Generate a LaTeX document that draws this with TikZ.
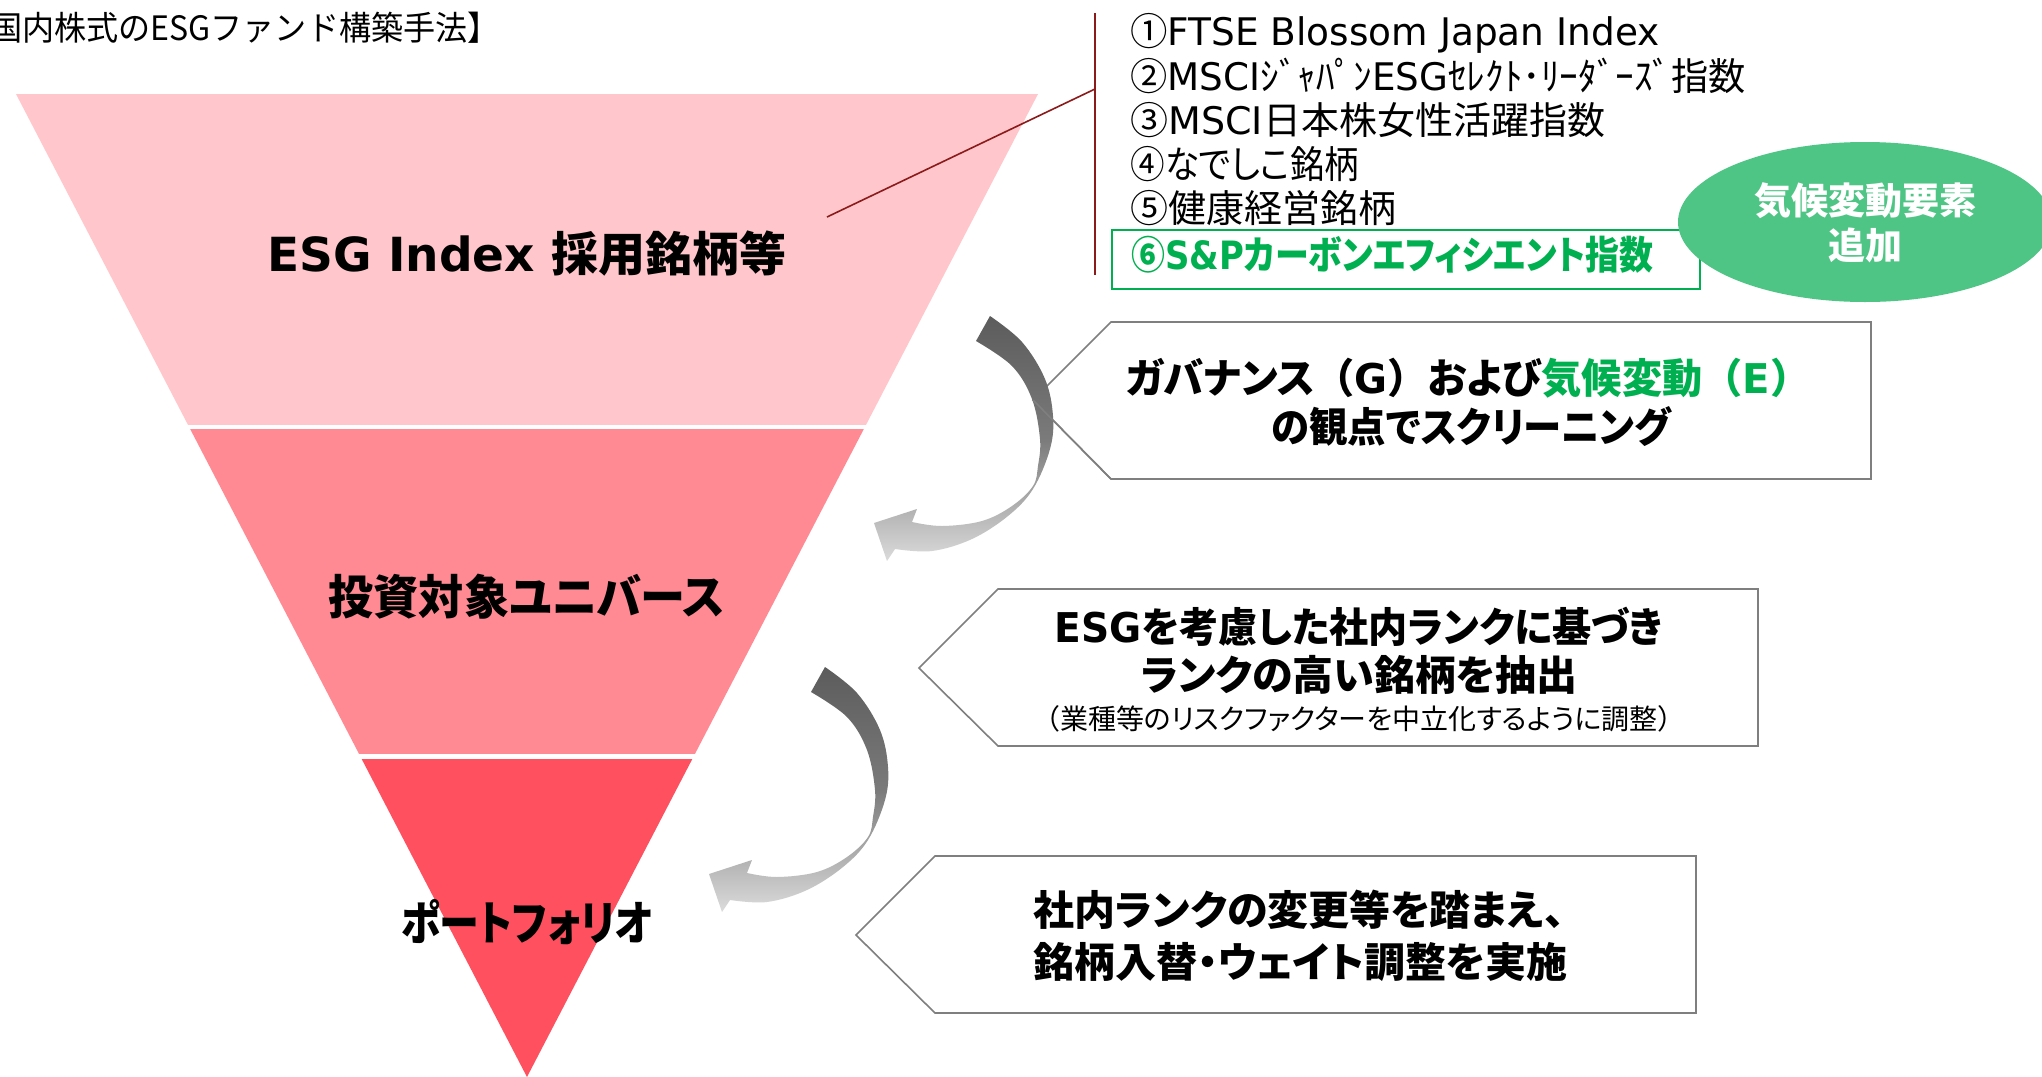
\documentclass[tikz,border=0pt]{standalone}
\usepackage{fontspec}
\setmainfont{DejaVu Sans}
\newfontfamily\jpp[RawFeature=+palt]{Noto Sans CJK JP}
\newfontfamily\jpm{Noto Sans CJK JP}
\newcommand{\jt}[1]{{\jpp #1}}
\newcommand{\jw}[1]{{\jpm #1}}
\newcommand{\hsq}[2]{\scalebox{#1}[1]{#2}}
\usetikzlibrary{calc,shapes.geometric}
\definecolor{bandA}{HTML}{FFC6CB}
\definecolor{bandB}{HTML}{FF8A93}
\definecolor{bandC}{HTML}{FF505F}
\definecolor{esgreen}{HTML}{00B050}
\definecolor{ellgreen}{HTML}{4EC585}
\definecolor{leader}{HTML}{8B1A1A}
\definecolor{boxgray}{HTML}{7F7F7F}
\tikzset{
  titlef/.style={font=\fontsize{16.8}{20}\selectfont, inner sep=0pt, anchor=base east},
  item/.style={font=\fontsize{19}{22}\selectfont, inner sep=0pt, anchor=base west},
  lbl/.style={font=\fontsize{23.5}{28}\selectfont\bfseries, inner sep=0pt, anchor=base},
  cl/.style={font=\fontsize{20.5}{24}\selectfont\bfseries, inner sep=0pt, anchor=base},
  cs/.style={font=\fontsize{14}{17}\selectfont, inner sep=0pt, anchor=base},
  ellt/.style={font=\fontsize{18.5}{22}\selectfont\bfseries, text=white, inner sep=0pt, anchor=base},
  leaderline/.style={draw=leader, line width=0.8pt},
  callout/.style={draw=boxgray, fill=white, line width=0.8pt, line join=miter},
  calloutline/.style={draw=boxgray, line width=0.8pt},
  arrowshade/.style={top color=black!64, bottom color=black!14, middle color=black!52},
}
\newcommand{\curvedarrow}[1]{%
  \path[arrowshade, shift={#1}]
    plot[smooth, tension=0.6] coordinates {(825,667) (857,693) (880,730) (888,767) (885,800) (868,840) (843,867) (807,890) (767,902) (730,900)}
    -- (722,912) -- (709,874) -- (752,860)
    -- plot[smooth, tension=0.6] coordinates {(747,873) (777,877) (817,872) (847,857) (868,837) (873,817) (875,790) (867,750) (847,717) (811,692)}
    -- cycle;}
\begin{document}
\begin{tikzpicture}[x=0.5pt, y=-0.5pt]
\useasboundingbox (0,0) rectangle (2042,1077);
\fill[white] (0,0) rectangle (2042,1077);

% title
\node[titlef] (title) at (500,40) {\hsq{0.955}{\jw{国内株式のESGファンド構築手法】}}};

% funnel
\coordinate (TL) at (16,94);
\coordinate (TR) at (1038,94);
\coordinate (AP) at (527,1077);
\fill[bandA] (TL) -- (TR) -- ($(TR)!0.3367!(AP)$) -- ($(TL)!0.3367!(AP)$) -- cycle;
\fill[bandB] ($(TL)!0.3408!(AP)$) -- ($(TR)!0.3408!(AP)$) -- ($(TR)!0.6714!(AP)$) -- ($(TL)!0.6714!(AP)$) -- cycle;
\fill[bandC] ($(TL)!0.6765!(AP)$) -- ($(TR)!0.6765!(AP)$) -- (AP) -- cycle;

\node[lbl] (l1) at (527,271) {ESG Index \jt{採用銘柄等}};
\node[lbl] (l2) at (527,614) {\hsq{0.96}{\jt{投資対象ユニバース}}};
\node[lbl] (l3) at (527,940) {\hsq{0.85}{\jt{ポートフォリオ}}};

% leader lines
\coordinate (la) at (827,217);
\coordinate (lb) at (1095,89);
\coordinate (vt) at (1095,13);
\coordinate (vb) at (1095,275);
\draw[leaderline] (la) -- (lb);
\draw[leaderline] (vt) -- (vb);

% index list
\node[item] (i1) at (1130,45.5) {\hsq{0.985}{\jw{①}FTSE Blossom Japan Index}};
\node[item] (i2) at (1130,90) {\hsq{0.98}{\jw{②}MSCI\jw{ｼﾞｬﾊﾟﾝ}ESG\jw{ｾﾚｸﾄ･ﾘｰﾀﾞｰｽﾞ指数}}};
\node[item] (i3) at (1130,134.5) {\jw{③}MSCI\jt{日本株女性活躍指数}};
\node[item] (i4) at (1130,178.5) {\hsq{0.91}{\jw{④}\jt{なでしこ銘柄}}};
\node[item] (i5) at (1130,222.5) {\jw{⑤}\jt{健康経営銘柄}};
\node[item, text=esgreen, font=\fontsize{19.5}{22}\selectfont\bfseries] (i6) at (1131,269) {\hsq{0.87}{\jw{⑥}S\&P\jt{カーボンエフィシエント指数}}};
\coordinate (gb1) at (1112,230);
\coordinate (gb2) at (1700,289);
\draw[esgreen, line width=1pt] (gb1) rectangle (gb2);

% ellipse
\node[ellipse, fill=ellgreen, minimum width=187pt, minimum height=80pt, inner sep=0pt] (ell) at (1865,222) {};
\node[ellt] (e1) at (1865,214.5) {\jt{気候変動要素}};
\node[ellt] (e2) at (1865,259) {\jt{追加}};

% callout 1
\coordinate (c1tip) at (1033,400);
\coordinate (c1tl) at (1111,322);
\coordinate (c1tr) at (1871,322);
\coordinate (c1br) at (1871,479);
\coordinate (c1bl) at (1111,479);
\path[callout] (c1tip) -- (c1tl) -- (c1tr) -- (c1br) -- (c1bl) -- cycle;
\curvedarrow{(165,-351)}
\draw[calloutline] (c1tip) -- (c1bl);
\node[cl] (c1a) at (1468,393.5) {\hsq{0.98}{\jt{ガバナンス}\jw{（}G\jw{）}\jt{および}\textcolor{esgreen}{\jt{気候変動}\jw{（}E\jw{）}}}};
\node[cl] (c1b) at (1471,442.5) {\hsq{0.936}{\jt{の観点でスクリーニング}}};

% callout 2
\coordinate (c2tip) at (919,668);
\coordinate (c2tl) at (998,589);
\coordinate (c2tr) at (1758,589);
\coordinate (c2br) at (1758,746);
\coordinate (c2bl) at (998,746);
\path[callout] (c2tip) -- (c2tl) -- (c2tr) -- (c2br) -- (c2bl) -- cycle;
\node[cl] (c2a) at (1359,642) {\hsq{0.955}{ESG\jt{を考慮した社内ランクに基づき}}};
\node[cl] (c2b) at (1359,690) {\jt{ランクの高い銘柄を抽出}};
\node[cs] (c2c) at (1359,729.5) {\jw{（}\jt{業種等のリスクファクターを中立化するように調整}\jw{）}};

% arrow 2
\curvedarrow{(0,0)}

% callout 3
\coordinate (c3tip) at (856,935);
\coordinate (c3tl) at (935,856);
\coordinate (c3tr) at (1696,856);
\coordinate (c3br) at (1696,1013);
\coordinate (c3bl) at (935,1013);
\path[callout] (c3tip) -- (c3tl) -- (c3tr) -- (c3br) -- (c3bl) -- cycle;
\node[cl, anchor=base west] (c3a) at (1033,925) {\jt{社内ランクの変更等を踏まえ、}};
\node[cl, anchor=base west] (c3b) at (1033,977) {\jt{銘柄入替・ウェイト調整を実施}};
\end{tikzpicture}
\end{document}
